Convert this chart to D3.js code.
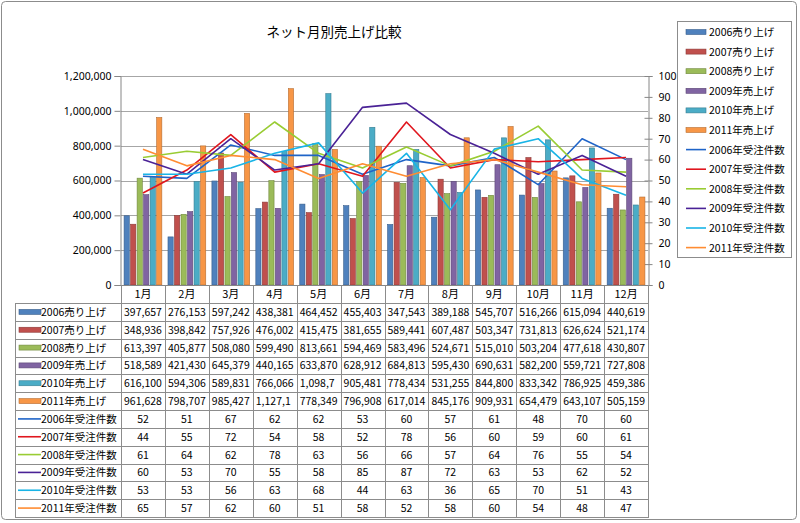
<!DOCTYPE html>
<html>
<head>
<meta charset="utf-8">
<script src="https://cdn.jsdelivr.net/npm/d3@7"></script>
<style>
  html, body { margin: 0; padding: 0; background: #fff; }
  svg { display: block; font-family: "Noto Sans CJK JP", "Noto Sans", sans-serif; }
</style>
</head>
<body>
<div id="chart"></div>
<script>
// categories
const months = ['1月', '2月', '3月', '4月', '5月', '6月', '7月', '8月', '9月', '10月', '11月', '12月'];

// sales (bars, left axis)
const sales2006 = [397657, 276153, 597242, 438381, 464452, 455403, 347543, 389188, 545707, 516266, 615094, 440619];
const sales2007 = [348936, 398842, 757926, 476002, 415475, 381655, 589441, 607487, 503347, 731813, 626624, 521174];
const sales2008 = [613397, 405877, 508080, 599490, 813661, 594469, 583496, 524671, 515010, 503204, 477618, 430807];
const sales2009 = [518589, 421430, 645379, 440165, 633870, 628912, 684813, 595430, 690631, 582200, 559721, 727808];
const sales2010 = [616100, 594306, 589831, 766066, 1098700, 905481, 778434, 531255, 844800, 833342, 786925, 459386];
const sales2011 = [961628, 798707, 985427, 1127100, 778349, 796908, 617014, 845176, 909931, 654479, 643107, 505159];

// order counts (lines, right axis)
const orders2006 = [52, 51, 67, 62, 62, 53, 60, 57, 61, 48, 70, 60];
const orders2007 = [44, 55, 72, 54, 58, 52, 78, 56, 60, 59, 60, 61];
const orders2008 = [61, 64, 62, 78, 63, 56, 66, 57, 64, 76, 55, 54];
const orders2009 = [60, 53, 70, 55, 58, 85, 87, 72, 63, 53, 62, 52];
const orders2010 = [53, 53, 56, 63, 68, 44, 63, 36, 65, 70, 51, 43];
const orders2011 = [65, 57, 62, 60, 51, 58, 52, 58, 60, 54, 48, 47];

const leftTicks = [0, 200000, 400000, 600000, 800000, 1000000, 1200000];
const rightTicks = [0, 10, 20, 30, 40, 50, 60, 70, 80, 90, 100];

const barSeries = [
  { name: '2006売り上げ', values: sales2006, color: '#4F81BD', edge: '#385D8A' },
  { name: '2007売り上げ', values: sales2007, color: '#C0504D', edge: '#8C3836' },
  { name: '2008売り上げ', values: sales2008, color: '#9BBB59', edge: '#71893F' },
  { name: '2009年売上げ', values: sales2009, color: '#8064A2', edge: '#5C4776' },
  { name: '2010年売上げ', values: sales2010, color: '#4BACC6', edge: '#357D91' },
  { name: '2011年売上げ', values: sales2011, color: '#F79646', edge: '#B66D31' }
];
const lineSeries = [
  { name: '2006年受注件数', values: orders2006, color: '#1F64C8' },
  { name: '2007年受注件数', values: orders2007, color: '#E0161E' },
  { name: '2008年受注件数', values: orders2008, color: '#99CC33' },
  { name: '2009年受注件数', values: orders2009, color: '#4A2296' },
  { name: '2010年受注件数', values: orders2010, color: '#19B4E6' },
  { name: '2011年受注件数', values: orders2011, color: '#FF8C32' }
];

const W = 800, H = 523;
const plot = { left: 121, right: 648, top: 76, bottom: 285 };
const table = { left: 15, headBottom: 303, bottom: 517 };

const svg = d3.select('#chart').append('svg')
  .attr('width', W).attr('height', H);

// chart frame
svg.append('rect')
  .attr('x', 1.5).attr('y', 1.5).attr('width', W - 5).attr('height', 518)
  .attr('rx', 4).attr('fill', '#fff').attr('stroke', '#8c8c8c');

// title
svg.append('text')
  .attr('x', 334).attr('y', 37)
  .attr('text-anchor', 'middle')
  .attr('font-size', 13.5)
  .attr('fill', '#000')
  .text('ネット月別売上げ比較');

// scales
const x0 = d3.scaleBand().domain(months).range([plot.left, plot.right])
  .paddingInner(0.14).paddingOuter(0.07);
const x1 = d3.scaleBand().domain(d3.range(barSeries.length)).range([0, x0.bandwidth()])
  .paddingInner(0.2);
const yL = d3.scaleLinear().domain([0, 1200000]).range([plot.bottom, plot.top]);
const yR = d3.scaleLinear().domain([0, 100]).range([plot.bottom, plot.top]);

// gridlines
svg.append('g')
  .selectAll('line')
  .data(leftTicks.slice(1))
  .join('line')
  .attr('x1', plot.left).attr('x2', plot.right)
  .attr('y1', d => Math.round(yL(d)) + 0.5).attr('y2', d => Math.round(yL(d)) + 0.5)
  .attr('stroke', '#a6a6a6');

// left axis
const gL = svg.append('g')
  .attr('transform', `translate(${plot.left - 0.5},0)`)
  .call(d3.axisLeft(yL).tickValues(leftTicks).tickFormat(d3.format(',')).tickSize(6).tickPadding(3));
gL.selectAll('text').attr('font-size', 10.5).attr('fill', '#000').attr('font-family', '"Noto Sans", sans-serif');
gL.selectAll('line, path').attr('stroke', '#868686');

// right axis
const gR = svg.append('g')
  .attr('transform', `translate(${plot.right + 0.5},0)`)
  .call(d3.axisRight(yR).tickValues(rightTicks).tickSize(4).tickPadding(6));
gR.selectAll('text').attr('font-size', 10.5).attr('fill', '#000').attr('font-family', '"Noto Sans", sans-serif');
gR.selectAll('line, path').attr('stroke', '#868686');
gR.selectAll('.tick line').attr('x1', -4);

// bars
const gBars = svg.append('g');
barSeries.forEach((s, i) => {
  gBars.append('g')
    .selectAll('rect')
    .data(s.values)
    .join('rect')
    .attr('x', (d, j) => x0(months[j]) + x1(i))
    .attr('width', x1.bandwidth())
    .attr('y', d => yL(d))
    .attr('height', d => plot.bottom - yL(d))
    .attr('fill', s.color)
    .attr('stroke', s.edge)
    .attr('stroke-width', 0.6);
});

// lines
const cx = j => x0(months[j]) + x0.bandwidth() / 2;
lineSeries.forEach(s => {
  const line = d3.line().x((d, j) => cx(j)).y(d => yR(d));
  svg.append('path')
    .datum(s.values)
    .attr('d', line)
    .attr('fill', 'none')
    .attr('stroke', s.color)
    .attr('stroke-width', 1.6)
    .attr('stroke-linejoin', 'round');
});

// category axis line
svg.append('line')
  .attr('x1', plot.left).attr('x2', plot.right)
  .attr('y1', plot.bottom + 0.5).attr('y2', plot.bottom + 0.5)
  .attr('stroke', '#868686');

// data table
const allSeries = barSeries.map(s => ({ ...s, type: 'bar' }))
  .concat(lineSeries.map(s => ({ ...s, type: 'line' })));
const rowH = (table.bottom - table.headBottom) / allSeries.length;
const step = x0.step();
const colEdge = j => plot.left + step * j;
const gT = svg.append('g').attr('font-size', 10.5).attr('fill', '#000');

// header labels
gT.selectAll('text.head')
  .data(months)
  .join('text')
  .attr('class', 'head')
  .attr('x', (d, j) => colEdge(j) + step / 2)
  .attr('y', (plot.bottom + table.headBottom) / 2 + 4)
  .attr('text-anchor', 'middle')
  .attr('font-size', 11)
  .text(d => d);

// vertical grid of table
gT.selectAll('line.col')
  .data(d3.range(months.length + 1))
  .join('line')
  .attr('class', 'col')
  .attr('x1', j => Math.round(colEdge(j)) + 0.5).attr('x2', j => Math.round(colEdge(j)) + 0.5)
  .attr('y1', plot.bottom).attr('y2', table.bottom)
  .attr('stroke', '#8c8c8c');
gT.append('line')
  .attr('x1', table.left + 0.5).attr('x2', table.left + 0.5)
  .attr('y1', table.headBottom).attr('y2', table.bottom)
  .attr('stroke', '#8c8c8c');
// horizontal grid of table
gT.selectAll('line.row')
  .data(d3.range(allSeries.length + 1))
  .join('line')
  .attr('class', 'row')
  .attr('x1', table.left).attr('x2', plot.right + 1)
  .attr('y1', r => Math.round(table.headBottom + r * rowH) + 0.5)
  .attr('y2', r => Math.round(table.headBottom + r * rowH) + 0.5)
  .attr('stroke', '#8c8c8c');

const fmt = d3.format(',');
allSeries.forEach((s, r) => {
  const yMid = table.headBottom + r * rowH + rowH / 2;
  if (s.type === 'bar') {
    gT.append('rect')
      .attr('x', table.left + 4).attr('y', yMid - 2.5)
      .attr('width', 22).attr('height', 5)
      .attr('fill', s.color).attr('stroke', s.edge).attr('stroke-width', 0.6);
  } else {
    gT.append('line')
      .attr('x1', table.left + 3).attr('x2', table.left + 26)
      .attr('y1', yMid).attr('y2', yMid)
      .attr('stroke', s.color).attr('stroke-width', 1.6);
  }
  gT.append('text')
    .attr('x', table.left + 26).attr('y', yMid + 4)
    .text(s.name);
  s.values.forEach((v, j) => {
    const t = gT.append('text')
      .attr('x', colEdge(j) + step / 2)
      .attr('y', yMid + 4)
      .attr('text-anchor', 'middle')
      .text(fmt(v));
    // cells that are too narrow get cut off, like the spreadsheet
    let str = fmt(v);
    if (t.node().getComputedTextLength() > step - 3) {
      while (str.length > 1 && t.text(str).node().getComputedTextLength() > step - 6) str = str.slice(0, -1);
      t.attr('text-anchor', 'start').attr('x', colEdge(j) + 3).text(str);
    }
  });
});

// legend
const lg = { x: 677, y: 21, w: 114, h: 236 };
svg.append('rect')
  .attr('x', lg.x + 0.5).attr('y', lg.y + 0.5).attr('width', lg.w).attr('height', lg.h)
  .attr('fill', '#fff').attr('stroke', '#8c8c8c');
const item = svg.append('g').selectAll('g')
  .data(allSeries)
  .join('g')
  .attr('transform', (d, i) => `translate(${lg.x + 9},${lg.y + 11 + i * 19.6})`);
item.filter(d => d.type === 'bar').append('rect')
  .attr('x', 0).attr('y', -2.5).attr('width', 20).attr('height', 5)
  .attr('fill', d => d.color).attr('stroke', d => d.edge).attr('stroke-width', 0.6);
item.filter(d => d.type === 'line').append('line')
  .attr('x1', 0).attr('x2', 20).attr('y1', 0).attr('y2', 0)
  .attr('stroke', d => d.color).attr('stroke-width', 1.6);
item.append('text')
  .attr('x', 23).attr('y', 4)
  .attr('font-size', 10.5)
  .text(d => d.name);
</script>
</body>
</html>
